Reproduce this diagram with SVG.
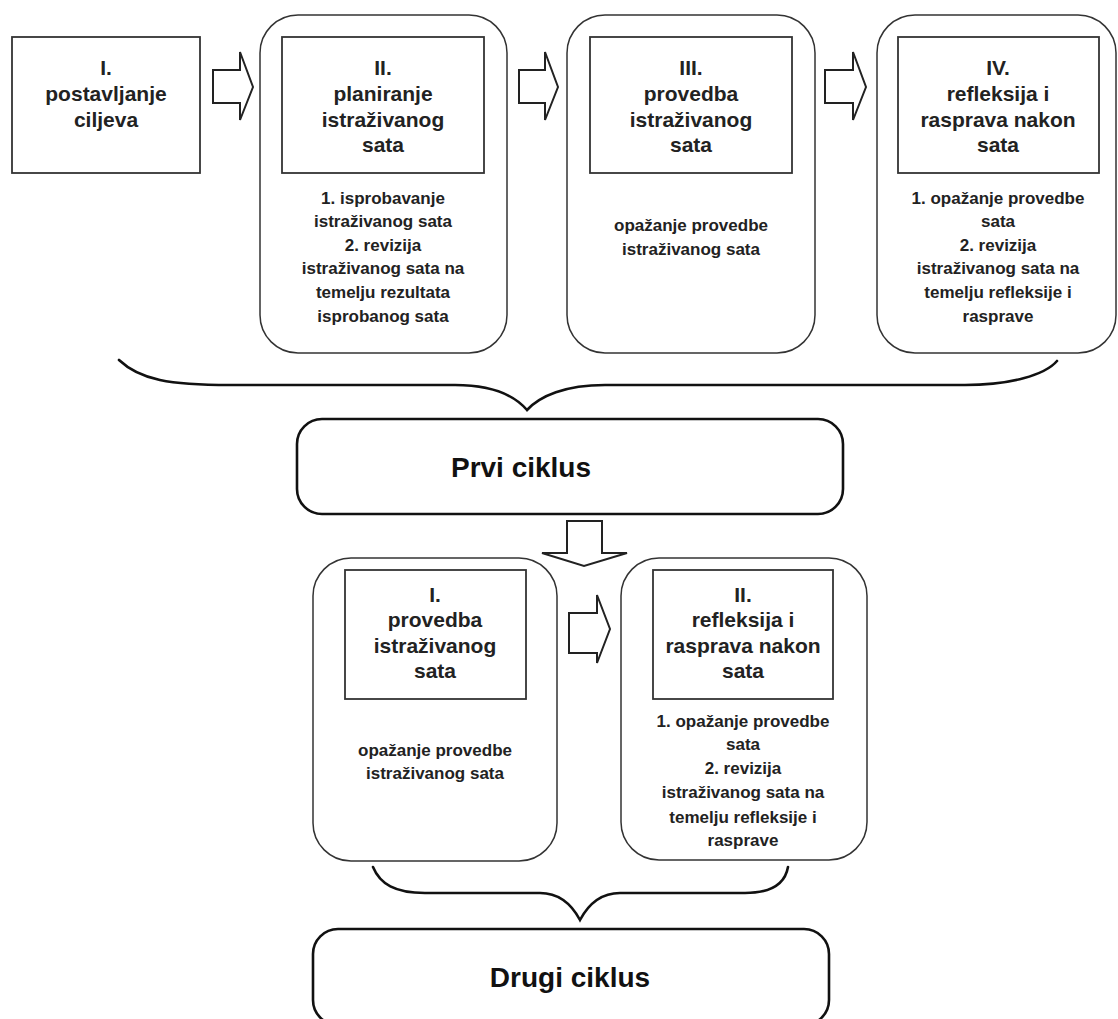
<svg xmlns="http://www.w3.org/2000/svg" width="1118" height="1019" viewBox="0 0 1118 1019">
<style>
  .outer { fill: #fff; stroke: #333; stroke-width: 1.5; }
  .inner { fill: #fff; stroke: #333; stroke-width: 1.8; }
  .cycle { fill: #fff; stroke: #111; stroke-width: 2.6; }
  .arrow { fill: #fff; stroke: #222; stroke-width: 2; stroke-linejoin: miter; }
  .brace { fill: none; stroke: #111; stroke-width: 2.6; stroke-linecap: round; }
  text { font-family: "Liberation Sans", Arial, sans-serif; font-weight: bold; fill: #222; text-anchor: middle; }
  .h { font-size: 21px; }
  .b { font-size: 17px; }
  .c { font-size: 28px; fill: #111; }
</style>
<rect width="1118" height="1019" fill="#fff"/>

<g id="connectors">
  <polygon class="arrow" points="213,70 240,70 240,52 253,87 240,120 240,103 213,103"/>
  <polygon class="arrow" points="519,70 545,70 545,52 558,87 545,120 545,103 519,103"/>
  <polygon class="arrow" points="825,70 853,70 853,52 866,87 853,120 853,103 825,103"/>
  <polygon class="arrow" points="567,521 602,521 602,553 627,553 584,566 542,553 567,553"/>
  <polygon class="arrow" points="569,613 597,613 597,595 610,629 597,663 597,653 569,653"/>
  <path class="brace" d="M119,360 C140,380 170,385 230,385 L455,385 C495,385 515,396 527,410 C540,396 565,385 605,385 L965,385 C1010,385 1045,375 1057,361"/>
  <path class="brace" d="M373,867 C380,884 395,893 425,893 L540,893 C560,893 572,905 580,920 C588,905 600,893 620,893 L745,893 C772,893 785,884 788,867"/>
</g>

<g id="node-I">
  <rect class="inner" x="12" y="37" width="188" height="136"/>
  <text class="h" x="106" y="75">I.</text>
  <text class="h" x="106" y="101">postavljanje</text>
  <text class="h" x="106" y="127">ciljeva</text>
</g>

<g id="node-II">
  <rect class="outer" x="260" y="15" width="247" height="338" rx="38" ry="38"/>
  <rect class="inner" x="282" y="37" width="202" height="136"/>
  <text class="h" x="383" y="75">II.</text>
  <text class="h" x="383" y="101">planiranje</text>
  <text class="h" x="383" y="127">istraživanog</text>
  <text class="h" x="383" y="152">sata</text>
  <text class="b" x="383" y="204">1. isprobavanje</text>
  <text class="b" x="383" y="227">istraživanog sata</text>
  <text class="b" x="383" y="251">2. revizija</text>
  <text class="b" x="383" y="274">istraživanog sata na</text>
  <text class="b" x="383" y="298">temelju rezultata</text>
  <text class="b" x="383" y="322">isprobanog sata</text>
</g>

<g id="node-III">
  <rect class="outer" x="567" y="15" width="248" height="338" rx="38" ry="38"/>
  <rect class="inner" x="590" y="37" width="202" height="136"/>
  <text class="h" x="691" y="75">III.</text>
  <text class="h" x="691" y="101">provedba</text>
  <text class="h" x="691" y="127">istraživanog</text>
  <text class="h" x="691" y="152">sata</text>
  <text class="b" x="691" y="231">opažanje provedbe</text>
  <text class="b" x="691" y="255">istraživanog sata</text>
</g>

<g id="node-IV">
  <rect class="outer" x="877" y="15" width="239" height="338" rx="38" ry="38"/>
  <rect class="inner" x="898" y="37" width="201" height="136"/>
  <text class="h" x="998" y="75">IV.</text>
  <text class="h" x="998" y="101">refleksija i</text>
  <text class="h" x="998" y="127">rasprava nakon</text>
  <text class="h" x="998" y="152">sata</text>
  <text class="b" x="998" y="204">1. opažanje provedbe</text>
  <text class="b" x="998" y="227">sata</text>
  <text class="b" x="998" y="251">2. revizija</text>
  <text class="b" x="998" y="274">istraživanog sata na</text>
  <text class="b" x="998" y="298">temelju refleksije i</text>
  <text class="b" x="998" y="322">rasprave</text>
</g>

<g id="prvi-ciklus">
  <rect class="cycle" x="297" y="419" width="546" height="95" rx="25" ry="25"/>
  <text class="c" x="521" y="477">Prvi ciklus</text>
</g>

<g id="node-2-I">
  <rect class="outer" x="313" y="558" width="244" height="303" rx="38" ry="38"/>
  <rect class="inner" x="345" y="570" width="181" height="129"/>
  <text class="h" x="435" y="602">I.</text>
  <text class="h" x="435" y="627">provedba</text>
  <text class="h" x="435" y="653">istraživanog</text>
  <text class="h" x="435" y="678">sata</text>
  <text class="b" x="435" y="756">opažanje provedbe</text>
  <text class="b" x="435" y="779">istraživanog sata</text>
</g>

<g id="node-2-II">
  <rect class="outer" x="621" y="558" width="246" height="302" rx="38" ry="38"/>
  <rect class="inner" x="653" y="570" width="180" height="129"/>
  <text class="h" x="743" y="602">II.</text>
  <text class="h" x="743" y="627">refleksija i</text>
  <text class="h" x="743" y="653">rasprava nakon</text>
  <text class="h" x="743" y="678">sata</text>
  <text class="b" x="743" y="727">1. opažanje provedbe</text>
  <text class="b" x="743" y="750">sata</text>
  <text class="b" x="743" y="774">2. revizija</text>
  <text class="b" x="743" y="798">istraživanog sata na</text>
  <text class="b" x="743" y="823">temelju refleksije i</text>
  <text class="b" x="743" y="846">rasprave</text>
</g>

<g id="drugi-ciklus">
  <rect class="cycle" x="313" y="929" width="516" height="96" rx="25" ry="25"/>
  <text class="c" x="570" y="987">Drugi ciklus</text>
</g>
</svg>
